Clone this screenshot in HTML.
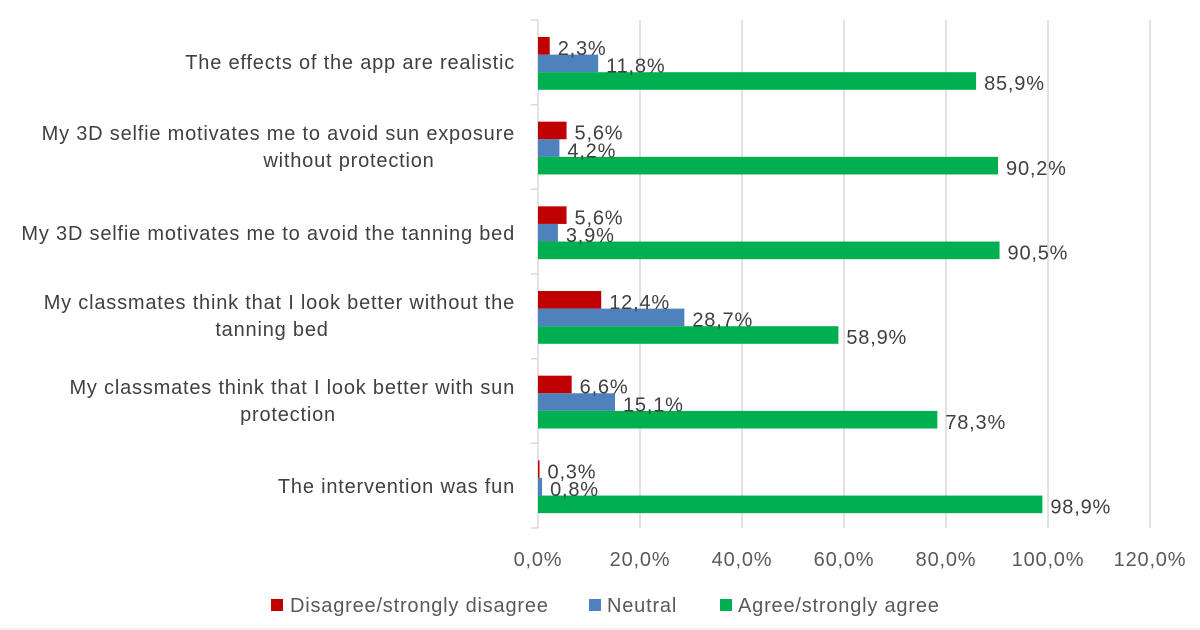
<!DOCTYPE html>
<html><head><meta charset="utf-8"><style>
html,body{margin:0;padding:0;background:#fff;}
svg{display:block;font-family:"Liberation Sans",Arial,sans-serif;}
</style></head><body>
<svg width="1200" height="630" viewBox="0 0 1200 630" xmlns="http://www.w3.org/2000/svg">
<rect width="1200" height="630" fill="#fff"/>
<g stroke="#d9d9d9" stroke-width="1.5">
<line x1="640" y1="20" x2="640" y2="528"/>
<line x1="742" y1="20" x2="742" y2="528"/>
<line x1="844" y1="20" x2="844" y2="528"/>
<line x1="946" y1="20" x2="946" y2="528"/>
<line x1="1048" y1="20" x2="1048" y2="528"/>
<line x1="1150" y1="20" x2="1150" y2="528"/>
<line x1="538" y1="20" x2="538" y2="528"/>
<line x1="531" y1="20" x2="538" y2="20"/>
<line x1="531" y1="104.7" x2="538" y2="104.7"/>
<line x1="531" y1="189.3" x2="538" y2="189.3"/>
<line x1="531" y1="274" x2="538" y2="274"/>
<line x1="531" y1="358.7" x2="538" y2="358.7"/>
<line x1="531" y1="443.3" x2="538" y2="443.3"/>
<line x1="531" y1="528" x2="538" y2="528"/>
</g>
<g id="bars"></g>
<g font-size="20" letter-spacing="0.8" fill="#404040" id="lbl"></g>
<g font-size="20" letter-spacing="0.8" fill="#404040" text-anchor="end">
<text x="515" y="69">The effects of the app are realistic</text>
<text x="515" y="140">My 3D selfie motivates me to avoid sun exposure</text>
<text x="349" y="167" text-anchor="middle">without protection</text>
<text x="515" y="240">My 3D selfie motivates me to avoid the tanning bed</text>
<text x="515" y="309">My classmates think that I look better without the</text>
<text x="272" y="336" text-anchor="middle">tanning bed</text>
<text x="515" y="394">My classmates think that I look better with sun</text>
<text x="288" y="421" text-anchor="middle">protection</text>
<text x="515" y="493">The intervention was fun</text>
</g>
<g font-size="20" letter-spacing="0.8" fill="#595959" text-anchor="middle">
<text x="538" y="566">0,0%</text><text x="640" y="566">20,0%</text><text x="742" y="566">40,0%</text>
<text x="844" y="566">60,0%</text><text x="946" y="566">80,0%</text><text x="1048" y="566">100,0%</text><text x="1150" y="566">120,0%</text>
</g>
<g font-size="20" letter-spacing="0.8" fill="#595959">
<rect x="271" y="599" width="12" height="12" fill="#c00000"/><text x="290" y="612">Disagree/strongly disagree</text>
<rect x="589" y="599" width="12" height="12" fill="#4f81bd"/><text x="607" y="612">Neutral</text>
<rect x="720" y="599" width="12" height="12" fill="#00b050"/><text x="738" y="612">Agree/strongly agree</text>
</g>
<line x1="0" y1="629" x2="1200" y2="629" stroke="#e6e6e6"/>
<script>
var d=[[2.3,11.8,85.9],[5.6,4.2,90.2],[5.6,3.9,90.5],[12.4,28.7,58.9],[6.6,15.1,78.3],[0.3,0.8,98.9]];
var c=["#c00000","#4f81bd","#00b050"],ns="http://www.w3.org/2000/svg";
var b=document.getElementById("bars"),l=document.getElementById("lbl");
d.forEach(function(g,i){g.forEach(function(v,j){
var y=20+i*84.67+17+j*17.6,w=v*5.1;
var r=document.createElementNS(ns,"rect");r.setAttribute("x",538);r.setAttribute("y",y);r.setAttribute("width",w);r.setAttribute("height",17.6);r.setAttribute("fill",c[j]);b.appendChild(r);
var t=document.createElementNS(ns,"text");t.setAttribute("x",538+w+8);t.setAttribute("y",y+18);t.textContent=v.toFixed(1).replace(".",",")+"%";l.appendChild(t);
});});
</script>
</svg>
</body></html>
